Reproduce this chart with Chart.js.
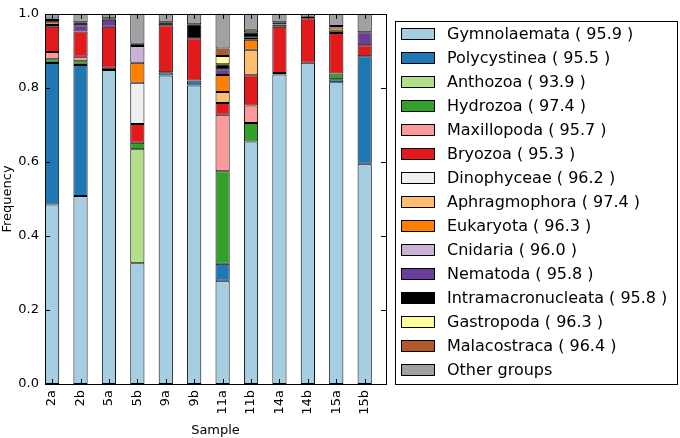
<!DOCTYPE html>
<html>
<head>
<meta charset="utf-8">
<script src="https://cdn.jsdelivr.net/npm/chart.js@4/dist/chart.umd.min.js"></script>
<style>
html,body{margin:0;padding:0;background:#fff;}
#wrap{width:680px;height:438px;}
</style>
</head>
<body>
<div id="wrap"><canvas id="c" width="680" height="438"></canvas></div>
<script>
const samples = ["2a","2b","5a","5b","9a","9b","11a","11b","14a","14b","15a","15b"];
const groupNames = ["Gymnolaemata","Polycystinea","Anthozoa","Hydrozoa","Maxillopoda","Bryozoa","Dinophyceae","Aphragmophora","Eukaryota","Cnidaria","Nematoda","Intramacronucleata","Gastropoda","Malacostraca","Other groups"];
const groupIdentity = ["95.9","95.5","93.9","97.4","95.7","95.3","96.2","97.4","96.3","96.0","95.8","95.8","96.3","96.4",null];
const groupColors = ["#a6cee3","#1f78b4","#b2df8a","#33a02c","#fb9a99","#e31a1c","#efefef","#fdbf6f","#ff7f00","#cab2d6","#6a3d9a","#000000","#ffff99","#b15928","#a1a1a4"];
const yTicks = [0.0,0.2,0.4,0.6,0.8,1.0];

const gymnolaemata      = [0.485,0.508,0.848,0.326,0.833,0.806,0.279,0.655,0.836,0.868,0.815,0.595];
const polycystinea      = [0.382,0.354,0.006,0,    0.009,0.014,0.046,0,    0.004,0,    0.008,0.290];
const anthozoa          = [0,    0,    0,    0.308,0,    0,    0,    0,    0,    0,    0,    0];
const hydrozoa          = [0.010,0.010,0,    0.018,0,    0,    0.250,0.050,0,    0,    0.016,0];
const maxillopoda       = [0.020,0.012,0,    0,    0,    0,    0.152,0.047,0,    0,    0,    0];
const bryozoa           = [0.068,0.068,0.111,0.050,0.127,0.114,0.032,0.082,0.125,0.120,0.109,0.030];
const dinophyceae       = [0,    0,    0,    0.112,0,    0,    0,    0,    0,    0,    0,    0];
const aphragmophora     = [0.005,0,    0,    0,    0,    0,    0.030,0.069,0,    0,    0.006,0];
const eukaryota         = [0.007,0,    0,    0.054,0,    0,    0.046,0.027,0,    0,    0.009,0];
const cnidaria          = [0,    0,    0,    0.045,0,    0,    0,    0,    0,    0,    0,    0];
const nematoda          = [0.006,0.017,0.019,0.006,0,    0,    0.015,0.005,0.006,0,    0,    0.035];
const intramacronucleata= [0.004,0.008,0.004,0,    0.008,0.038,0.014,0.015,0.006,0.004,0.004,0];
const gastropoda        = [0,    0,    0,    0,    0,    0,    0.022,0.007,0,    0,    0,    0];
const malacostraca      = [0,    0,    0,    0,    0,    0,    0.020,0,    0,    0,    0,    0];
const otherGroups       = [0.013,0.023,0.012,0.081,0.023,0.028,0.094,0.043,0.023,0.008,0.033,0.050];

const seriesValues = [gymnolaemata,polycystinea,anthozoa,hydrozoa,maxillopoda,bryozoa,dinophyceae,aphragmophora,eukaryota,cnidaria,nematoda,intramacronucleata,gastropoda,malacostraca,otherGroups];

const FONT = "'DejaVu Sans', sans-serif";

const datasets = seriesValues.map((vals,i)=>({
  label: groupIdentity[i] ? groupNames[i] + " ( " + groupIdentity[i] + " )" : groupNames[i],
  data: vals.map((v,j)=>({x:j, y:v})),
  backgroundColor: groupColors[i],
  borderColor: "#000000",
  borderWidth: 1,
  borderSkipped: false,
  barPercentage: 0.5,
  categoryPercentage: 1.0
}));

const framePlugin = {
  id: 'frame',
  afterDatasetsDraw(chart){
    const {ctx, chartArea:a, scales} = chart;
    ctx.save();
    ctx.strokeStyle = '#000';
    ctx.lineWidth = 1;
    const L = 5;
    ctx.beginPath();
    yTicks.forEach(v=>{
      const y = Math.round(scales.y.getPixelForValue(v)) + 0.5;
      ctx.moveTo(a.left, y); ctx.lineTo(a.left+L, y);
      ctx.moveTo(a.right, y); ctx.lineTo(a.right-L, y);
    });
    samples.forEach((s,i)=>{
      const x = Math.round(scales.x.getPixelForValue(i)) + 0.5;
      ctx.moveTo(x, a.bottom); ctx.lineTo(x, a.bottom-L);
      ctx.moveTo(x, a.top); ctx.lineTo(x, a.top+L);
    });
    ctx.stroke();
    ctx.strokeRect(Math.round(a.left)+0.5, Math.round(a.top)+0.5, Math.round(a.right-a.left), Math.round(a.bottom-a.top));
    // legend
    const lx = 395.5, ly = 21.5, lw = 282, lh = 363;
    ctx.fillStyle = '#fff';
    ctx.fillRect(lx, ly, lw, lh);
    ctx.strokeRect(lx, ly, lw, lh);
    ctx.font = '16px ' + FONT;
    ctx.textBaseline = 'middle';
    ctx.textAlign = 'left';
    chart.data.datasets.forEach((ds,i)=>{
      const cy = 34 + 24*i;
      ctx.fillStyle = ds.backgroundColor;
      ctx.fillRect(401.5, cy-5.5, 33, 11);
      ctx.strokeRect(401.5, cy-5.5, 33, 11);
      ctx.fillStyle = '#000';
      ctx.fillText(ds.label, 447, cy+1);
    });
    ctx.restore();
  }
};

new Chart(document.getElementById('c'), {
  type: 'bar',
  data: { datasets },
  options: {
    responsive: false,
    animation: false,
    layout: { padding: { top: 7, right: 294, bottom: 0, left: 0 } },
    plugins: { legend: { display: false }, tooltip: { enabled: false } },
    scales: {
      x: {
        type: 'linear',
        stacked: true,
        offset: false,
        min: -0.25, max: 11.75,
        grid: { display: false, drawTicks: false },
        border: { display: false },
        afterBuildTicks(scale){ scale.ticks = samples.map((s,i)=>({value:i})); },
        ticks: { color: '#000', font: { family: FONT, size: 13 }, minRotation: 90, maxRotation: 90, padding: 6, autoSkip: false, callback: v => samples[v] },
        title: { display: true, text: 'Sample', color: '#000', font: { family: FONT, size: 13 }, padding: { top: 0, bottom: 0 } },
        afterFit(scale){ scale.height = 54; }
      },
      y: {
        stacked: true,
        min: 0, max: 1,
        grid: { display: false, drawTicks: false },
        border: { display: false },
        afterBuildTicks(scale){ scale.ticks = yTicks.map(v=>({value:v})); },
        ticks: { color: '#000', font: { family: FONT, size: 13 }, padding: 6, callback: v => Number(v).toFixed(1) },
        title: { display: true, text: 'Frequency', color: '#000', font: { family: FONT, size: 13 }, padding: { top: 0, bottom: 0 } },
        afterFit(scale){ scale.width = 45; }
      }
    }
  },
  plugins: [framePlugin]
});
</script>
</body>
</html>
